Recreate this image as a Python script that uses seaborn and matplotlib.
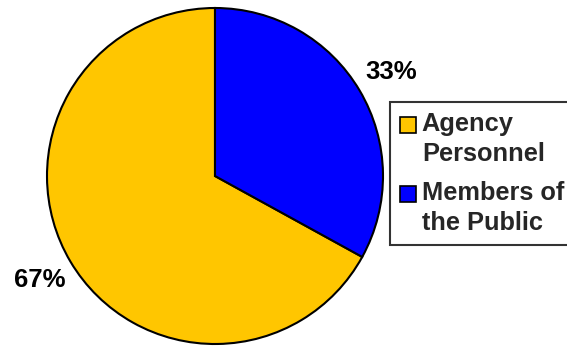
import matplotlib
matplotlib.use("Agg")
import matplotlib.pyplot as plt
from matplotlib.legend_handler import HandlerPatch
from matplotlib.patches import Rectangle
import seaborn as sns

categories = ["Agency\nPersonnel", "Members of\nthe Public"]
values = [67, 33]
colors = ["#FFC600", "#0000FF"]

sns.set_theme(style="white")
plt.rcParams['font.family'] = ['Liberation Sans', 'DejaVu Sans']

fig = plt.figure(figsize=(5.67, 3.46), dpi=100)
ax = fig.add_axes([47/567, 2/346, 336/567, 336/346])
wedges, texts, autotexts = ax.pie(
    values, colors=colors, startangle=90, counterclock=True,
    autopct=lambda p: f"{p:.0f}%", pctdistance=1.215,
    wedgeprops=dict(edgecolor="black", linewidth=1.5),
    textprops=dict(fontsize=18.5, fontweight="bold", color="black"))
ax.set_xlim(-1, 1)
ax.set_ylim(-1, 1)
ax.set_aspect("equal")

FS = 18.3
LS = 1.3


def top_square(legend, orig_handle, xdescent, ydescent, width, height, fontsize):
    s = width
    shift = 0.5 * 30 * 0.72  # half a line pitch, in points
    y = -ydescent + height / 2 - s / 2 + shift
    return Rectangle((-xdescent, y), s, s)


leg = fig.legend(wedges, categories, loc="upper left",
                 bbox_to_anchor=(390/567, 1 - 102/346),
                 prop=dict(size=FS, weight="bold"),
                 frameon=True, fancybox=False, borderpad=0.4,
                 handlelength=0.63, handleheight=0.63, handletextpad=0.22,
                 labelspacing=0.6, borderaxespad=0,
                 handler_map={w: HandlerPatch(patch_func=top_square) for w in wedges})
for t in leg.get_texts():
    t.set_linespacing(LS)
leg.get_frame().set_edgecolor("black")
leg.get_frame().set_linewidth(1.5)
for h in leg.legend_handles:
    h.set_linewidth(1.2)

fig.savefig("out.png", dpi=100)
